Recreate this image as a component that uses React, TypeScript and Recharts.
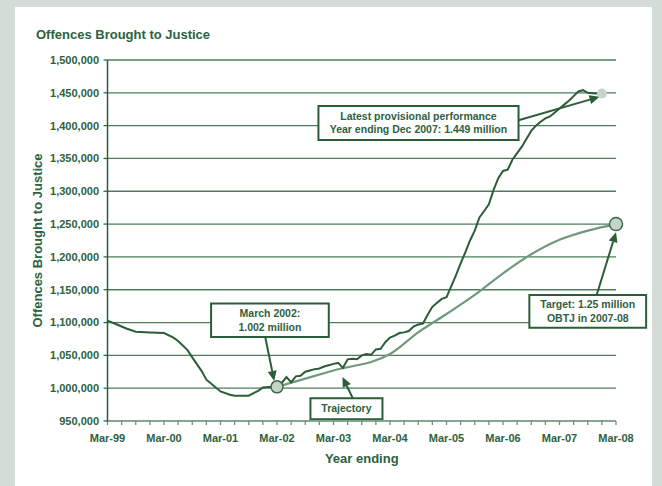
import React from 'react';
import {
  LineChart,
  Line,
  XAxis,
  YAxis,
  CartesianGrid,
  ReferenceDot,
  ReferenceArea,
  ReferenceLine,
} from 'recharts';

// ---- data ----
// months since March 1999
const actualMonths = [
  0, 2, 4, 6, 9, 12, 14, 15, 17, 18, 20, 21, 23, 24, 26, 27, 30, 32, 33, 35,
  36, 37, 38, 39, 40, 41, 42, 43, 44, 45, 46, 47, 48, 49, 50, 51, 52, 53, 54,
  55, 56, 57, 58, 59, 60, 61, 62, 63, 64, 65, 66, 67, 68, 69, 70, 71, 72, 73,
  74, 75, 76, 77, 78, 79, 80, 81, 82, 83, 84, 85, 86, 87, 88, 89, 90, 91, 92,
  93, 94, 95, 96, 97, 98, 99, 100, 101, 102, 103, 104, 105,
];
const actualValues = [
  1103000, 1097000, 1091000, 1086000, 1085000, 1084000, 1077000, 1072000,
  1058000, 1047000, 1026000, 1013000, 1001000, 995000, 990000, 988500, 988500,
  996000, 1001000, 1002000,
  1002000, 1008000, 1017000, 1009000, 1018000, 1019000, 1025000, 1027000,
  1029000, 1030000, 1033000, 1035000, 1037000, 1038500, 1031000, 1044000,
  1045000, 1044000, 1050000, 1052000, 1051000, 1059000, 1060000, 1070000,
  1077000, 1080000, 1084000, 1085000, 1087000, 1094000, 1097000, 1098500,
  1112000, 1124000, 1130000, 1136000, 1138500, 1155000, 1172000, 1190000,
  1207000, 1225000, 1240000, 1260000, 1270000, 1280000, 1302000, 1320000,
  1331000, 1333000, 1348000, 1358000, 1368000, 1380000, 1392000, 1400000,
  1406000, 1411000, 1414000, 1420000, 1426000, 1432000, 1438000, 1445000,
  1452000, 1454000, 1450000, 1449500, 1449000, 1449000,
];
const trajectoryMonths = [36, 48, 60, 66, 72, 78, 84, 90, 96, 102, 108];
const trajectoryValues = [
  1002000, 1027000, 1052000, 1085000, 1113000, 1142000, 1175000, 1204000,
  1226000, 1240000, 1250000,
];

const yearLabels = [
  'Mar-99', 'Mar-00', 'Mar-01', 'Mar-02', 'Mar-03', 'Mar-04', 'Mar-05',
  'Mar-06', 'Mar-07', 'Mar-08',
];
const yTicks = [
  950000, 1000000, 1050000, 1100000, 1150000, 1200000, 1250000, 1300000,
  1350000, 1400000, 1450000, 1500000,
];
const quarterTicks = [
  0, 3, 6, 9, 12, 15, 18, 21, 24, 27, 30, 33, 36, 39, 42, 45, 48, 51, 54, 57,
  60, 63, 66, 69, 72, 75, 78, 81, 84, 87, 90, 93, 96, 99, 102, 105, 108,
];

// highlighted points [month, value]
const march2002Point = [36, 1002000];
const latestPoint = [105, 1449000];
const targetPoint = [108, 1250000];

// annotation boxes: [m1, m2, v1, v2]
const march2002Box = [22, 47, 1078000, 1129000];
const latestBox = [44.8, 87.3, 1378000, 1430000];
const targetBox = [89.6, 114.4, 1092000, 1142000];
const trajectoryBox = [43.1, 58.4, 952600, 984700];

const march2002Text = ['March 2002:', '1.002 million'];
const latestText = ['Latest provisional performance', 'Year ending Dec 2007: 1.449 million'];
const targetText = ['Target: 1.25 million', 'OBTJ in 2007-08'];
const trajectoryText = ['Trajectory'];

// arrows: [m1, v1, m2, v2]
const march2002Arrow = [33.5, 1078000, 35.4, 1011000];
const latestArrow = [87.3, 1408300, 104.5, 1443900];
const targetArrow = [103.9, 1142000, 108, 1237700];
const trajectoryArrow = [52.1, 984700, 49.9, 1017200];

// build table
const rowMap = new Map<number, any>();
actualMonths.forEach((m, i) => {
  rowMap.set(m, { ...(rowMap.get(m) || { m }), actual: actualValues[i] });
});
trajectoryMonths.forEach((m, i) => {
  rowMap.set(m, { ...(rowMap.get(m) || { m }), trajectory: trajectoryValues[i] });
});
const tableData = Array.from(rowMap.values()).sort((a, b) => a.m - b.m);

// ---- styles ----
const DARK = '#2a5d38';
const TEXT = '#2d6140';
const LIGHT_LINE = '#6f9a7b';
const FONT = '"Liberation Sans", Arial, Helvetica, sans-serif';

const Arrow = (props: any) => {
  const { x1, y1, x2, y2 } = props;
  const dx = x2 - x1;
  const dy = y2 - y1;
  const len = Math.hypot(dx, dy) || 1;
  const ux = dx / len;
  const uy = dy / len;
  const hl = 10;
  const hw = 4.5;
  const bx = x2 - ux * hl;
  const by = y2 - uy * hl;
  const px = -uy;
  const py = ux;
  return (
    <g>
      <line x1={x1} y1={y1} x2={bx} y2={by} stroke={DARK} strokeWidth={2} />
      <polygon
        points={`${x2},${y2} ${bx + px * hw},${by + py * hw} ${bx - px * hw},${by - py * hw}`}
        fill={DARK}
      />
    </g>
  );
};

const boxLabel = (lines: string[]) => (p: any) => {
  const vb = p.viewBox || {};
  const cx = vb.x + vb.width / 2;
  const cy = vb.y + vb.height / 2;
  const lh = 13.4;
  const start = cy - ((lines.length - 1) * lh) / 2;
  return (
    <g>
      {lines.map((t, i) => (
        <text
          key={i}
          x={cx}
          y={start + i * lh}
          dy="0.35em"
          textAnchor="middle"
          fontSize={10.5}
          fontWeight="bold"
          fill={TEXT}
          fontFamily={FONT}
        >
          {t}
        </text>
      ))}
    </g>
  );
};

const renderBox = (b: number[], lines: string[]) => (
  <ReferenceArea
    x1={b[0]}
    x2={b[1]}
    y1={b[2]}
    y2={b[3]}
    fill="#ffffff"
    fillOpacity={1}
    stroke={DARK}
    strokeWidth={2}
    strokeOpacity={1}
    ifOverflow="visible"
    label={boxLabel(lines)}
  />
);

const renderArrow = (a: number[]) => (
  <ReferenceLine
    segment={[
      { x: a[0], y: a[1] },
      { x: a[2], y: a[3] },
    ]}
    shape={Arrow}
    ifOverflow="visible"
  />
);

const fmtY = (v: number) => v.toLocaleString('en-US');
const fmtX = (m: number) => (m % 12 === 0 ? yearLabels[m / 12] : '');

export default function App() {
  return (
    <div
      style={{
        position: 'absolute',
        left: 0,
        top: 0,
        width: 662,
        height: 486,
        background: '#d3dcd5',
        fontFamily: FONT,
        overflow: 'hidden',
      }}
    >
      <div
        style={{
          position: 'absolute',
          left: 15,
          top: 7,
          width: 637,
          height: 479,
          background: '#ffffff',
        }}
      />
      <div
        style={{
          position: 'absolute',
          left: 36,
          top: 27.5,
          fontSize: 13,
          lineHeight: '13px',
          fontWeight: 'bold',
          color: TEXT,
          whiteSpace: 'nowrap',
        }}
      >
        Offences Brought to Justice
      </div>
      <div style={{ position: 'absolute', left: 0, top: 0 }}>
        <LineChart
          width={662}
          height={486}
          data={tableData}
          margin={{ top: 60, right: 46, bottom: 35, left: 7.5 }}
        >
          <CartesianGrid
            horizontal
            vertical={false}
            stroke="#4e7d5d"
            strokeWidth={1.3}
          />
          <XAxis
            dataKey="m"
            type="number"
            domain={[0, 108]}
            ticks={quarterTicks}
            tickFormatter={fmtX}
            interval={0}
            height={30}
            axisLine={{ stroke: '#86a68f', strokeWidth: 2 }}
            tickLine={{ stroke: '#6f9079', strokeWidth: 1.3 }}
            tickSize={4}
            tickMargin={9}
            tick={{ fontSize: 11, fontWeight: 'bold', fill: TEXT, fontFamily: FONT }}
            label={(p: any) => {
              const vb = p.viewBox || {};
              return (
                <text
                  x={vb.x + vb.width / 2}
                  y={vb.y + 42}
                  textAnchor="middle"
                  fontSize={13}
                  fontWeight="bold"
                  fill={TEXT}
                  fontFamily={FONT}
                >
                  Year ending
                </text>
              );
            }}
          />
          <YAxis
            type="number"
            domain={[950000, 1500000]}
            ticks={yTicks}
            interval={0}
            width={100}
            tickFormatter={fmtY}
            axisLine={{ stroke: DARK, strokeWidth: 1.5 }}
            tickLine={{ stroke: DARK, strokeWidth: 1.2 }}
            tickSize={4}
            tickMargin={4.5}
            tick={{ fontSize: 11, fontWeight: 'bold', fill: TEXT, fontFamily: FONT }}
            label={(p: any) => {
              const vb = p.viewBox || {};
              const x = vb.x + 29.5;
              const y = vb.y + vb.height / 2;
              return (
                <text
                  x={x}
                  y={y}
                  transform={`rotate(-90 ${x} ${y})`}
                  textAnchor="middle"
                  dy="0.35em"
                  fontSize={13}
                  fontWeight="bold"
                  fill={TEXT}
                  fontFamily={FONT}
                >
                  Offences Brought to Justice
                </text>
              );
            }}
          />
          <Line
            type="monotone"
            dataKey="trajectory"
            stroke={LIGHT_LINE}
            strokeWidth={2.2}
            dot={false}
            connectNulls
            isAnimationActive={false}
          />
          <Line
            type="linear"
            dataKey="actual"
            stroke={DARK}
            strokeWidth={2}
            dot={false}
            connectNulls
            isAnimationActive={false}
          />
          {renderArrow(march2002Arrow)}
          {renderArrow(latestArrow)}
          {renderArrow(targetArrow)}
          {renderArrow(trajectoryArrow)}
          {renderBox(march2002Box, march2002Text)}
          {renderBox(latestBox, latestText)}
          {renderBox(targetBox, targetText)}
          {renderBox(trajectoryBox, trajectoryText)}
          <ReferenceDot
            x={march2002Point[0]}
            y={march2002Point[1]}
            r={6}
            fill="#c6d3c9"
            stroke="#3c6a49"
            strokeWidth={1.5}
            ifOverflow="visible"
          />
          <ReferenceDot
            x={latestPoint[0]}
            y={latestPoint[1]}
            r={5}
            fill="#c9d3cb"
            stroke="none"
            ifOverflow="visible"
          />
          <ReferenceDot
            x={targetPoint[0]}
            y={targetPoint[1]}
            r={6.5}
            fill="#c6d3c9"
            stroke="#3c6a49"
            strokeWidth={1.5}
            ifOverflow="visible"
          />
        </LineChart>
      </div>
    </div>
  );
}
